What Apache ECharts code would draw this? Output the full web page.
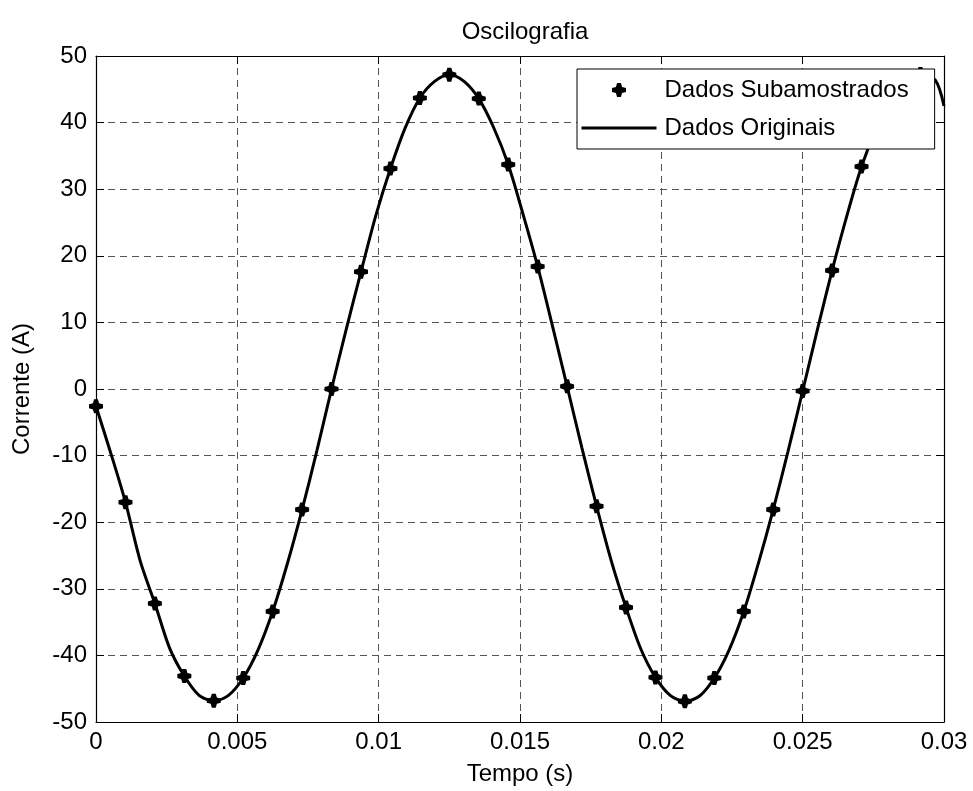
<!DOCTYPE html>
<html>
<head>
<meta charset="utf-8">
<script src="https://cdn.jsdelivr.net/npm/echarts@6/dist/echarts.min.js"></script>
<style>html,body{margin:0;padding:0;background:#fff}#c{width:973px;height:791px}</style>
</head>
<body>
<div id="c"></div>
<script>
// Subsampled data (markers)
var tSub = [0, 0.001042, 0.002083, 0.003125, 0.004167, 0.005208, 0.00625, 0.007292, 0.008333, 0.009375,
  0.010417, 0.011458, 0.0125, 0.013542, 0.014583, 0.015625, 0.016667, 0.017708, 0.01875, 0.019792,
  0.020833, 0.021875, 0.022917, 0.023958, 0.025, 0.026042, 0.027083, 0.028125, 0.029167];
var vSub = [-2.6, -17.0, -32.2, -43.1, -46.8, -43.4, -33.4, -18.1, 0.0, 17.6,
  33.1, 43.7, 47.2, 43.6, 33.7, 18.4, 0.4, -17.6, -32.8, -43.3,
  -46.9, -43.4, -33.4, -18.1, -0.3, 17.8, 33.4, 43.6, 47.3];
// Original data (line)
var tOrig = [0, 0.000521, 0.001042, 0.001563, 0.002083, 0.002604, 0.003125, 0.003646, 0.004167, 0.004688,
  0.005208, 0.005729, 0.00625, 0.006771, 0.007292, 0.007813, 0.008333, 0.008854, 0.009375, 0.009896,
  0.010417, 0.010938, 0.011458, 0.011979, 0.0125, 0.013021, 0.013542, 0.014063, 0.014583, 0.015104,
  0.015625, 0.016146, 0.016667, 0.017188, 0.017708, 0.018229, 0.01875, 0.019271, 0.019792, 0.020313,
  0.020833, 0.021354, 0.021875, 0.022396, 0.022917, 0.023438, 0.023958, 0.024479, 0.025, 0.025521,
  0.026042, 0.026563, 0.027083, 0.027604, 0.028125, 0.028646, 0.029167, 0.029688, 0.03];
var vOrig = [-2.6, -9.6, -17.0, -25.8, -32.2, -38.9, -43.1, -46.0, -46.8, -46.0,
  -43.4, -39.2, -33.4, -26.2, -18.1, -9.3, 0.0, 9.0, 17.6, 26.0,
  33.1, 39.2, 43.7, 46.2, 47.2, 46.2, 43.6, 39.3, 33.7, 26.3,
  18.4, 9.5, 0.4, -8.8, -17.6, -25.8, -32.8, -39.0, -43.3, -46.0,
  -46.9, -46.1, -43.4, -39.2, -33.4, -26.1, -18.1, -9.4, -0.3, 8.9,
  17.8, 26.0, 33.4, 39.1, 43.6, 46.2, 47.3, 46.4, 42.5];
var xTicks = [0, 0.005, 0.01, 0.015, 0.02, 0.025, 0.03];
var yTicks = [-50, -40, -30, -20, -10, 0, 10, 20, 30, 40, 50];

var FONT = '"Liberation Sans", Arial, sans-serif';
var FS = 24;
var chart = echarts.init(document.getElementById('c'));
function pairs(a, b) { return a.map(function (v, i) { return [v, b[i]]; }); }
var gridDash = { show: true, lineStyle: { color: '#555', type: [7, 5], width: 1 } };
var tick = { show: true, inside: true, length: 8, lineStyle: { color: '#000', width: 1 } };
var axLine = { show: true, onZero: false, lineStyle: { color: '#000', width: 1.2 } };
var xFmt = function (v) { return String(parseFloat(v.toFixed(4))); };
var MARK = 'path://M3.6,0 L6.4,0 L7.2,2.8 L10,3.6 L10,6.4 L7.2,7.2 L6.4,10 L3.6,10 L2.8,7.2 L0,6.4 L0,3.6 L2.8,2.8 Z';

chart.setOption({
  animation: false,
  backgroundColor: '#fff',
  textStyle: { fontFamily: FONT },
  title: {
    text: 'Oscilografia', left: 520, top: 15, textAlign: 'center',
    textStyle: { fontFamily: FONT, fontSize: FS, fontWeight: 'normal', color: '#000' }
  },
  grid: { left: 96, right: 29, top: 56, bottom: 67, containLabel: false },
  legend: {
    orient: 'vertical', left: 577, top: 69, z: 10,
    padding: [9, 26, 9, 3], itemGap: 14, itemWidth: 75, itemHeight: 14,
    backgroundColor: '#fff', borderColor: '#000', borderWidth: 1, borderRadius: 0,
    textStyle: { fontFamily: FONT, fontSize: FS, color: '#000', padding: [0, 0, 0, 3] },
    data: [
      { name: 'Dados Subamostrados' },
      { name: 'Dados Originais', itemStyle: { color: 'rgba(0,0,0,0)', borderColor: 'rgba(0,0,0,0)', borderWidth: 0 },
        lineStyle: { color: '#000', width: 3 } }
    ]
  },
  xAxis: [{
    type: 'value', min: xTicks[0], max: xTicks[xTicks.length - 1], interval: 0.005, position: 'bottom',
    axisLine: axLine, axisTick: tick, splitLine: gridDash,
    axisLabel: { fontFamily: FONT, fontSize: FS, color: '#000', margin: 8, formatter: xFmt },
    name: 'Tempo (s)', nameLocation: 'middle', nameGap: 40,
    nameTextStyle: { fontFamily: FONT, fontSize: FS, color: '#000' }
  }, {
    type: 'value', min: xTicks[0], max: xTicks[xTicks.length - 1], interval: 0.005, position: 'top',
    axisLine: axLine, axisTick: tick, splitLine: { show: false }, axisLabel: { show: false }
  }],
  yAxis: [{
    type: 'value', min: yTicks[0], max: yTicks[yTicks.length - 1], interval: 10, position: 'left',
    axisLine: axLine, axisTick: tick, splitLine: gridDash,
    axisLabel: { fontFamily: FONT, fontSize: FS, color: '#000', margin: 9 },
    name: 'Corrente (A)', nameLocation: 'middle', nameGap: 62, nameRotate: 90,
    nameTextStyle: { fontFamily: FONT, fontSize: FS, color: '#000' }
  }, {
    type: 'value', min: yTicks[0], max: yTicks[yTicks.length - 1], interval: 10, position: 'right',
    axisLine: axLine, axisTick: tick, splitLine: { show: false }, axisLabel: { show: false }
  }],
  series: [{
    name: 'Dados Originais', type: 'line', xAxisIndex: 0, yAxisIndex: 0,
    data: pairs(tOrig, vOrig), symbol: 'none', smooth: 0.3, clip: true, z: 2,
    lineStyle: { color: '#000', width: 3 }, itemStyle: { color: '#000' }
  }, {
    name: 'Dados Subamostrados', type: 'scatter', xAxisIndex: 0, yAxisIndex: 0,
    data: pairs(tSub, vSub), z: 3,
    symbol: MARK, symbolSize: 14,
    itemStyle: { color: '#000', opacity: 1 }
  }]
});
</script>
</body>
</html>
